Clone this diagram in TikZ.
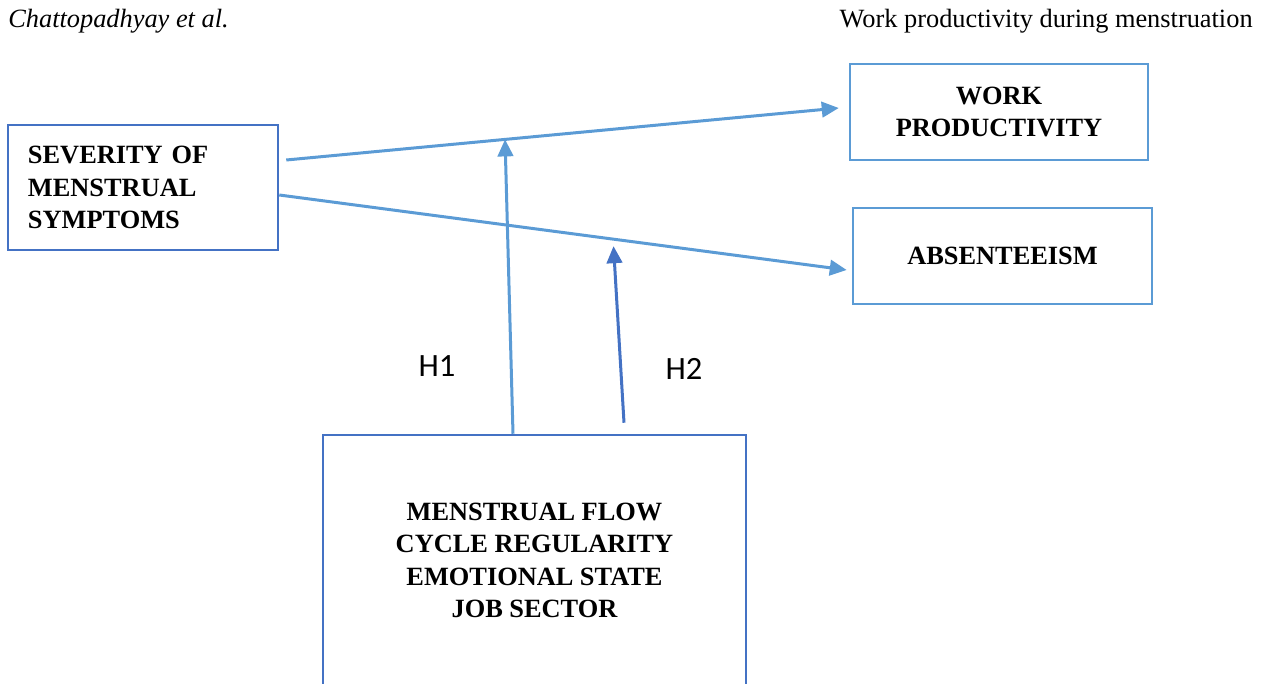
\documentclass[tikz,border=0pt]{standalone}
\usepackage{fontspec}
\setmainfont{Liberation Serif}
\newfontfamily\calibri{Carlito}
\usetikzlibrary{arrows.meta,positioning}
\definecolor{lightblue}{HTML}{5B9BD5}
\definecolor{darkblue}{HTML}{4472C4}

\begin{document}
\begin{tikzpicture}[x=0.2mm,y=-0.2mm,
    box/.style={draw,line width=0.5mm,inner sep=0pt,align=center,font=\fontsize{15}{18.5}\selectfont\bfseries},
    arr/.style={line width=0.6mm,-{Triangle[length=3.4mm,width=3.1mm]}}]
        \useasboundingbox (0,0) rectangle (1263,684);
        \clip (0,0) rectangle (1263,684);
        % Header
        \node[anchor=base west,inner sep=0pt,font=\fontsize{15}{18}\selectfont\itshape] (author) at (8,28) {Chattopadhyay et al.};
        \node[anchor=base east,inner sep=0pt,font=\fontsize{15}{18}\selectfont] (title) at (1253,28) {Work productivity during menstruation};
        % Boxes
        \node[box,draw=darkblue,align=left,inner xsep=4mm,text width=46mm,minimum height=25mm] (sev) at (143,187.5) {SEVERITY OF\\MENSTRUAL\\SYMPTOMS};
        \node[box,draw=lightblue,minimum width=59.6mm,minimum height=19.2mm] (work) at (999,112) {WORK\\PRODUCTIVITY};
        \node[box,draw=lightblue,minimum width=59.8mm,minimum height=19.2mm] (absent) at (1002.5,256) {ABSENTEEISM};
        \node[box,draw=darkblue,minimum width=84.6mm,minimum height=50.2mm] (factors) at (534.5,560.5) {MENSTRUAL FLOW\\CYCLE REGULARITY\\EMOTIONAL STATE\\JOB SECTOR};
        % Arrows
        \draw[arr,lightblue] ([shift={(7,-27.5)}]sev.east) -- ([shift={(-10,-4)}]work.west) coordinate[pos=0.396] (h1end);
        \draw[arr,lightblue] ([shift={(0,7.5)}]sev.east) -- ([shift={(-5,14)}]absent.west) coordinate[pos=0.589] (h2end);
        \draw[arr,lightblue] ([shift={(-21.5,0)}]factors.north) -- (h1end);
        \draw[arr,darkblue] ([shift={(89.5,-11)}]factors.north) -- ([shift={(0,7)}]h2end);
        % Hypotheses
        \node[font=\calibri\fontsize{18.5}{22}\selectfont] (h1) at (437,366) {H1};
        \node[font=\calibri\fontsize{18.5}{22}\selectfont] (h2) at (684,369) {H2};
\end{tikzpicture}
\end{document}
